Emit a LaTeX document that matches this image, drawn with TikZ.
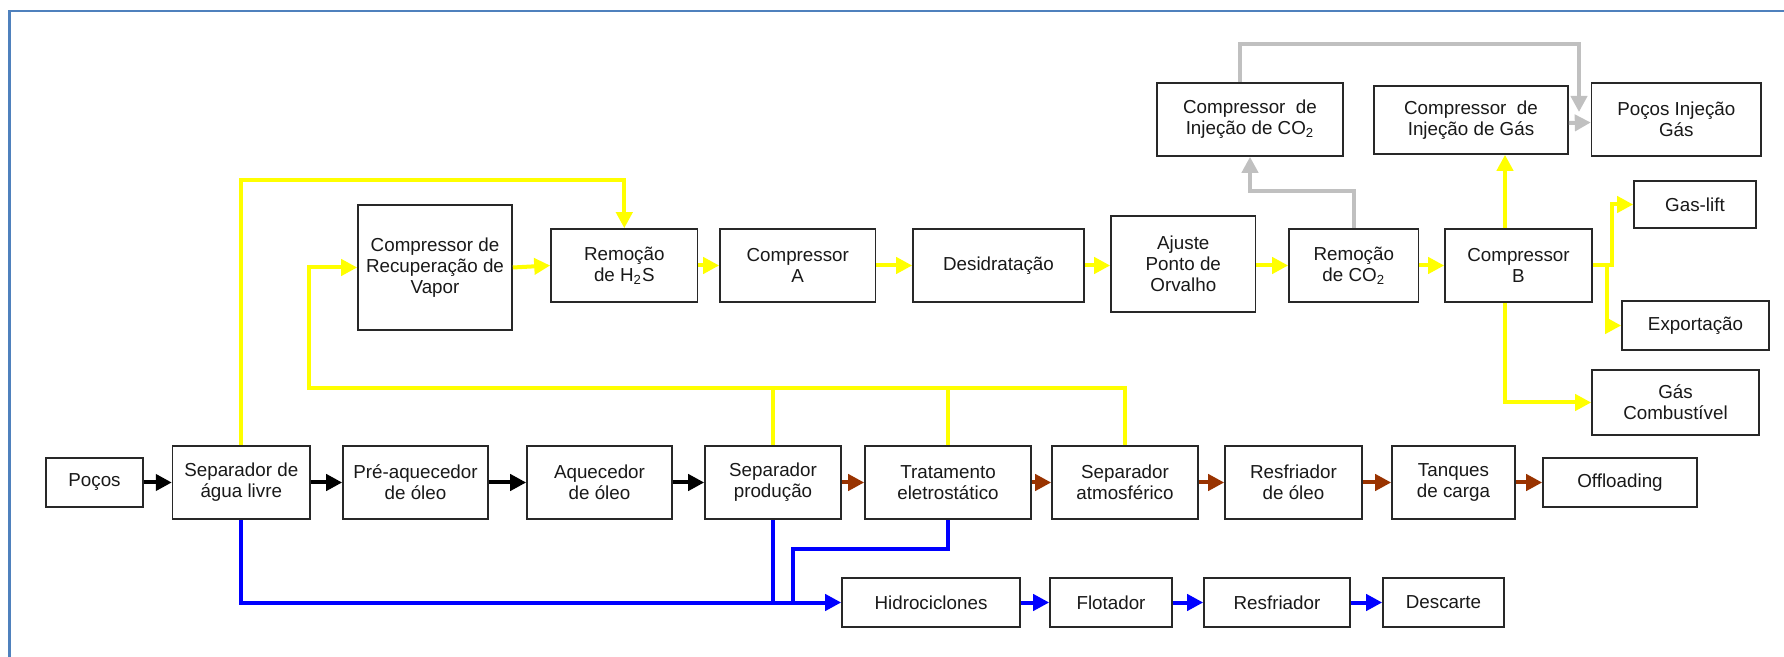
\documentclass[tikz,border=0pt]{standalone}
\usepackage{fontspec}
\setmainfont{Liberation Sans}
\usetikzlibrary{arrows.meta,calc}
\definecolor{frameblue}{RGB}{79,129,189}
\definecolor{boxc}{RGB}{40,40,40}
\definecolor{yel}{RGB}{255,255,0}
\definecolor{blu}{RGB}{0,0,255}
\definecolor{brn}{RGB}{153,51,0}
\definecolor{gry}{RGB}{192,192,192}
\newcommand\fs{\fontsize{9.4pt}{10.6pt}\selectfont}
\newcommand\bx[6]{\node[box, minimum width={(#4-#2)*0.5pt}, minimum height={(#5-#3)*0.5pt}] (#1) at ({(#2+#4)/2},{(#3+#5)/2}) {#6};}
\tikzset{
  box/.style={draw=boxc, line width=0.8pt, fill=white, align=center, inner sep=0pt, font=\fs, text=black!90},
  flow/.style={line width=2pt, -{Triangle[length=8pt,width=8pt]}},
  fline/.style={line width=2pt},
  blk/.style={color=black},
  yw/.style={color=yel},
  bw/.style={color=blu},
  br/.style={color=brn},
  gw/.style={color=gry},
}
\begin{document}
\begin{tikzpicture}[x=0.5pt,y=-0.5pt]
\useasboundingbox (0,0) rectangle (1784,657);
\draw[frameblue, line width=1.25pt] (9.6,700) -- (9.6,11) -- (1800,11);
% main row
\bx{pocos}{46}{458}{143}{507}{Poços}
\bx{sepagua}{172.6}{446}{310}{519}{Separador de\\água livre}
\bx{preaq}{343}{446}{488}{519}{Pré-aquecedor\\de óleo}
\bx{aquec}{527}{446}{672}{519}{Aquecedor\\de óleo}
\bx{sepprod}{705}{446}{841}{519}{Separador\\produção}
\bx{trat}{865}{446}{1031}{519}{Tratamento\\eletrostático}
\bx{sepatm}{1052}{446}{1198}{519}{Separador\\atmosférico}
\bx{resfoleo}{1225}{446}{1362}{519}{Resfriador\\de óleo}
\bx{tanques}{1392}{446}{1515}{519}{Tanques\\de carga}
\bx{offl}{1543}{458}{1697}{507}{Offloading}
% water row
\bx{hidro}{842}{578}{1020}{627}{Hidrociclones}
\bx{flot}{1050}{578}{1172}{627}{Flotador}
\bx{resfr}{1204}{578}{1350}{627}{Resfriador}
\bx{desc}{1383}{578}{1504}{627}{Descarte}
% gas row
\bx{comprec}{358}{205}{512}{330}{Compressor de\\Recuperação de\\Vapor}
\bx{remh2s}{551}{229}{697.6}{302}{Remoção\\de H\textsubscript{2}S}
\bx{compA}{720}{229}{875.5}{302}{Compressor\\A}
\bx{desid}{913}{229}{1084}{302}{Desidratação}
\bx{ajuste}{1111}{216}{1255.6}{312}{Ajuste\\Ponto de\\Orvalho}
\bx{remco2}{1289}{229}{1418.6}{302}{Remoção\\de CO\textsubscript{2}}
\bx{compB}{1445}{229}{1592}{302}{Compressor\\B}
\bx{compinjco2}{1157}{83}{1343}{156}{Compressor~~de\\Injeção de CO\textsubscript{2}}
\bx{compinjgas}{1374}{86}{1568}{154}{Compressor~~de\\Injeção de Gás}
\bx{pocosinj}{1591.6}{83}{1761}{156}{Poços Injeção\\Gás}
\bx{gaslift}{1634}{181}{1756}{228}{Gas-lift}
\bx{export}{1622}{301}{1769}{350}{Exportação}
\bx{gascomb}{1592}{370}{1759}{435}{Gás\\Combustível}
\coordinate (gtip) at (1579,112);
% black oil arrows
\draw[flow,blk] (pocos.east) -- (sepagua.west);
\draw[flow,blk] (sepagua.east) -- (preaq.west);
\draw[flow,blk] (preaq.east) -- (aquec.west);
\draw[flow,blk] (aquec.east) -- (sepprod.west);
% brown oil arrows
\draw[flow,br] (sepprod.east) -- (trat.west);
\draw[flow,br] (trat.east) -- (sepatm.west);
\draw[flow,br] (sepatm.east) -- (resfoleo.west);
\draw[flow,br] (resfoleo.east) -- (tanques.west);
\draw[flow,br] (tanques.east) -- (offl.west);
% blue water
\draw[flow,bw] (sepagua.south) |- (hidro.west);
\draw[fline,bw] (sepprod.south) -- (sepprod.south |- hidro.west);
\draw[fline,bw] (trat.south) -- ++(0,29) -| (793,602.5);
\draw[flow,bw] (hidro.east) -- (flot.west);
\draw[flow,bw] (flot.east) -- (resfr.west);
\draw[flow,bw] (resfr.east) -- (desc.west);
% yellow gas
\draw[flow,yw] (sepagua.north) |- ([yshift=24pt]remh2s.north) -- (remh2s.north);
\draw[flow,yw] (sepatm.north) |- (309,388) |- (comprec.west);
\draw[fline,yw] (sepprod.north) -- ++(0,-58);
\draw[fline,yw] (trat.north) -- ++(0,-58);
\draw[flow,yw] (comprec.east) -- (remh2s.west);
\draw[flow,yw] (remh2s.east) -- (compA.west);
\draw[flow,yw] (compA.east) -- (desid.west);
\draw[flow,yw] (desid.east) -- (desid.east -| ajuste.west);
\draw[flow,yw] (ajuste.east |- remco2.west) -- (remco2.west);
\draw[flow,yw] (remco2.east) -- (compB.east -| compB.west);
\draw[flow,yw] ([xshift=-6.75pt]compB.north) -- ([xshift=-6.75pt]compB.north |- compinjgas.south);
\draw[flow,yw] (compB.east) -- (1612,265.5) |- (gaslift.west);
\draw[flow,yw] (1607,265.5) |- (export.west);
\draw[flow,yw] ([xshift=-6.75pt]compB.south) |- (gascomb.west);
% gray CO2 / injection
\draw[flow,gw] (remco2.north) -- ++(0,-37) -| (compinjco2.south);
\draw[flow,gw] ([xshift=-5pt]compinjco2.north) |- (1579,44) -- (gtip);
\draw[flow,gw] ([yshift=-1.5pt]compinjgas.east) -- ([yshift=-1.5pt]pocosinj.west);
\end{tikzpicture}
\end{document}
